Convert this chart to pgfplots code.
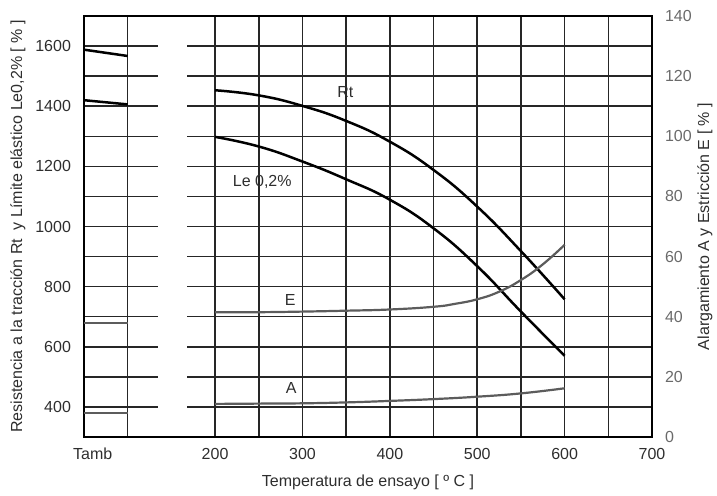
\documentclass[border=0pt]{standalone}
\usepackage{pgfplots}
\pgfplotsset{compat=1.18}
\usepackage{fontspec}
\setmainfont{Liberation Sans}
\definecolor{gridc}{HTML}{262626}
\definecolor{curvegray}{HTML}{5C5C5C}
\definecolor{labc}{HTML}{2E2E2E}
\definecolor{rlabc}{HTML}{6A6A6A}
\begin{document}
\begin{tikzpicture}[font=\fontsize{8}{9.6}\selectfont]
\useasboundingbox (-42pt,-29.5pt) rectangle (316.5pt,218.5pt);
\begin{axis}[
  at={(0,0)}, anchor=south west,
  scale only axis, width=284pt, height=210.5pt,
  xmin=50, xmax=700, ymin=300, ymax=1700,
  axis line style={line width=1pt, black},
  xtick={100,200,250,300,350,400,450,500,550,600,650,700},
  xticklabels={,200,,300,,400,,500,,600,,700},
  ytick={400,500,600,700,800,900,1000,1100,1200,1300,1400,1500,1600},
  yticklabels={400,,600,,800,,1000,,1200,,1400,,1600},
  extra x ticks={60}, extra x tick labels={Tamb},
  extra x tick style={grid=none, major tick length=0pt},
  grid=major, major grid style={gridc, line width=0.75pt},
  major tick length=0pt,
  /pgf/number format/assume math mode=true,
  tick label style={labc},
  xticklabel style={yshift=-2pt},
  yticklabel style={xshift=-3pt},
  xlabel={Temperatura de ensayo [ º C ]},
  xlabel style={at={(axis description cs:0.5,-0.107)}, anchor=center, labc},
  ylabel={Resistencia a la tracción Rt\ \ y Límite elástico Le0,2\% [ \% ]},
  ylabel style={at={(axis description cs:-0.1162,0.5)}, anchor=center, labc},
]
% Tamb segments
\addplot[black, line width=1.25pt] coordinates {(50,1588) (100,1567)};
\addplot[black, line width=1.25pt] coordinates {(50,1420) (100,1406)};
% Rt
\addplot[black, line width=1.25pt, smooth, tension=0.8] coordinates {
  (200,1453) (250,1436) (300,1401) (350,1351) (400,1282) (450,1188) (500,1066) (550,918) (600,758)};
% Le 0,2%
\addplot[black, line width=1.25pt, smooth, tension=0.8] coordinates {
  (200,1298) (250,1266) (300,1216) (350,1157) (400,1089) (450,994) (500,868) (550,717) (600,570)};
% break gap
\fill[white] (axis cs:135,305) rectangle (axis cs:168,1695);
\node[labc] at (axis cs:349,1446) {Rt};
\node[labc] at (axis cs:254,1147) {Le 0,2\%};
\end{axis}
\begin{axis}[
  at={(0,0)}, anchor=south west,
  scale only axis, width=284pt, height=210.5pt,
  xmin=50, xmax=700, ymin=0, ymax=140,
  axis x line=none, axis y line*=right,
  axis line style={line width=1pt, black},
  ytick={0,20,40,60,80,100,120,140},
  major tick length=0pt,
  /pgf/number format/assume math mode=true,
  yticklabel style={rlabc, xshift=3pt},
  ylabel={Alargamiento A y Estricción E [ \% ]},
  ylabel style={at={(axis description cs:1.0933,0.5)}, anchor=center, labc},
]
\addplot[curvegray, line width=1.1pt] coordinates {(50,38) (100,38)};
\addplot[curvegray, line width=1.1pt] coordinates {(50,8) (100,8)};
% E
\addplot[curvegray, line width=1.1pt, smooth, tension=0.8] coordinates {
  (200,41.5) (250,41.5) (300,41.7) (350,42) (400,42.4) (450,43.3) (475,44.3) (500,45.8) (525,48.3) (550,52.2) (575,57.4) (600,63.9)};
% A
\addplot[curvegray, line width=1.1pt, smooth, tension=0.8] coordinates {
  (200,11) (250,11.1) (300,11.2) (350,11.5) (400,12.0) (450,12.6) (500,13.4) (550,14.5) (600,16.2)};
\node[labc] at (axis cs:286,45.6) {E};
\node[labc] at (axis cs:287,16.3) {A};
\end{axis}
\end{tikzpicture}
\end{document}
